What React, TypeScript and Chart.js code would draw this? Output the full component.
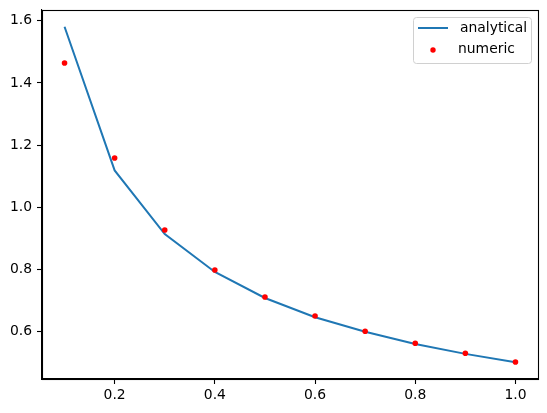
import React, { useEffect, useRef } from "react";
import { Chart, registerables } from "chart.js";
Chart.register(...registerables);

const xValues = [0.1, 0.2, 0.3, 0.4, 0.5, 0.6, 0.7, 0.8, 0.9, 1.0];
const analytical = [1.581, 1.118, 0.913, 0.791, 0.707, 0.645, 0.598, 0.559, 0.527, 0.5];
const numeric = [1.464, 1.158, 0.926, 0.797, 0.71, 0.649, 0.6, 0.561, 0.529, 0.501];
const xTicks = [0.2, 0.4, 0.6, 0.8, 1.0];
const yTicks = [0.6, 0.8, 1.0, 1.2, 1.4, 1.6];
const seriesNames = ["analytical", "numeric"];

const FONT = "'DejaVu Sans', sans-serif";
const FS = 13.9;

const framePlugin = {
  id: "frame",
  afterDraw(chart: any) {
    const { ctx, chartArea: a } = chart;
    ctx.save();
    ctx.strokeStyle = "#000";
    ctx.lineWidth = 1.1;
    ctx.strokeRect(Math.round(a.left) + 0.5, Math.round(a.top) + 0.5, Math.round(a.right - a.left), Math.round(a.bottom - a.top));
    ctx.restore();
  },
};

const legendPlugin = {
  id: "mplLegend",
  afterDraw(chart: any) {
    const { ctx, chartArea: a } = chart;
    const w = 118, h = 46;
    const x = a.right - 7 - w, y = a.top + 7;
    ctx.save();
    ctx.beginPath();
    (ctx as any).roundRect(x + 0.5, y + 0.5, w, h, 3);
    ctx.fillStyle = "rgba(255,255,255,0.8)";
    ctx.fill();
    ctx.strokeStyle = "#d0d0d0";
    ctx.lineWidth = 1;
    ctx.stroke();
    ctx.font = `${FS}px ${FONT}`;
    ctx.fillStyle = "#000";
    ctx.textBaseline = "middle";
    const ds = chart.data.datasets;
    ctx.strokeStyle = ds[0].borderColor;
    ctx.lineWidth = 2;
    ctx.beginPath();
    ctx.moveTo(x + 5, y + 11);
    ctx.lineTo(x + 35, y + 11);
    ctx.stroke();
    ctx.fillText(ds[0].label, x + 47, y + 11);
    ctx.fillStyle = ds[1].pointBackgroundColor;
    ctx.beginPath();
    ctx.arc(x + 20, y + 33, 2.7, 0, Math.PI * 2);
    ctx.fill();
    ctx.fillStyle = "#000";
    ctx.fillText(ds[1].label, x + 45, y + 32);
    ctx.restore();
  },
};

export default function App() {
  const ref = useRef<HTMLCanvasElement>(null);
  useEffect(() => {
    const chart = new Chart(ref.current!, {
      type: "line",
      data: {
        datasets: [
          {
            label: seriesNames[0],
            data: xValues.map((x, i) => ({ x, y: analytical[i] })),
            borderColor: "#1f77b4",
            borderWidth: 2,
            pointRadius: 0,
            tension: 0,
            order: 2,
          },
          {
            label: seriesNames[1],
            data: xValues.map((x, i) => ({ x, y: numeric[i] })),
            showLine: false,
            pointRadius: 2.8,
            pointBackgroundColor: "#ff0000",
            pointBorderWidth: 0,
            borderColor: "#ff0000",
            order: 1,
          } as any,
        ],
      },
      options: {
        animation: false,
        responsive: true,
        maintainAspectRatio: false,
        layout: { padding: { top: 10, right: 9, left: 0, bottom: 0 } },
        plugins: { legend: { display: false }, tooltip: { enabled: false } },
        scales: {
          x: {
            type: "linear",
            min: 0.055,
            max: 1.045,
            afterBuildTicks: (s: any) => {
              s.ticks = xTicks.map((v) => ({ value: v }));
            },
            afterFit: (s: any) => {
              s.height = 34;
              s.paddingLeft = 0;
              s.paddingRight = 0;
              s.paddingTop = 0;
              s.paddingBottom = 0;
            },
            ticks: {
              color: "#000",
              font: { family: FONT, size: FS },
              padding: 3,
              maxRotation: 0,
              callback: (v: any) => Number(v).toFixed(1),
            },
            grid: { drawOnChartArea: false, drawTicks: true, tickLength: 5, color: "#000", tickWidth: 1.1 },
            border: { display: true, color: "#000", width: 1.1 },
          },
          y: {
            type: "linear",
            min: 0.446,
            max: 1.635,
            afterBuildTicks: (s: any) => {
              s.ticks = yTicks.map((v) => ({ value: v }));
            },
            afterFit: (s: any) => {
              s.width = 42;
              s.paddingLeft = 0;
              s.paddingRight = 0;
              s.paddingTop = 0;
              s.paddingBottom = 0;
            },
            ticks: {
              color: "#000",
              font: { family: FONT, size: FS },
              padding: 5,
              callback: (v: any) => Number(v).toFixed(1),
            },
            grid: { drawOnChartArea: false, drawTicks: true, tickLength: 5, color: "#000", tickWidth: 1.1 },
            border: { display: true, color: "#000", width: 1.1 },
          },
        },
      },
      plugins: [framePlugin, legendPlugin],
    });
    return () => chart.destroy();
  }, []);
  return (
    <div style={{ position: "absolute", left: 0, top: 0, width: 547, height: 413, background: "#fff" }}>
      <canvas ref={ref} />
    </div>
  );
}
